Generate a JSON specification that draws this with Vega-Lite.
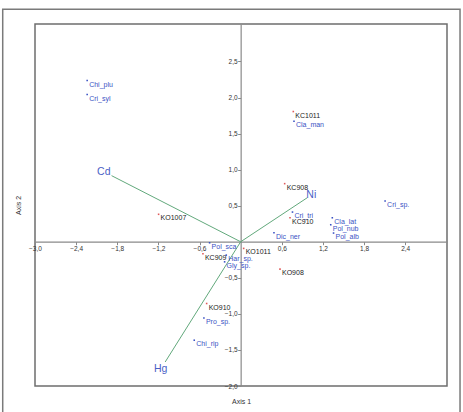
{
  "$schema": "https://vega.github.io/schema/vega-lite/v6.json",
  "width": 412,
  "height": 362,
  "autosize": {"type": "none"},
  "padding": {"left": 35, "top": 24, "right": 16, "bottom": 26},
  "background": "white",
  "config": {
    "view": {"stroke": "#6e6e6e", "strokeWidth": 1.5},
    "font": "Liberation Sans"
  },
  "datasets": {
    "scores": [
      {"name": "Chi_plu", "group": "species", "x": -2.239, "y": 2.236},
      {"name": "Cri_syl", "group": "species", "x": -2.239, "y": 2.042},
      {"name": "KC1011", "group": "site", "x": 0.768, "y": 1.806},
      {"name": "Cla_man", "group": "species", "x": 0.778, "y": 1.672},
      {"name": "KC908", "group": "site", "x": 0.642, "y": 0.806},
      {"name": "Cri_tri", "group": "species", "x": 0.756, "y": 0.412},
      {"name": "KC910", "group": "site", "x": 0.72, "y": 0.333},
      {"name": "Cri_sp.", "group": "species", "x": 2.107, "y": 0.565},
      {"name": "Cla_lat", "group": "species", "x": 1.337, "y": 0.333},
      {"name": "Pol_nub", "group": "species", "x": 1.314, "y": 0.236},
      {"name": "Pol_alb", "group": "species", "x": 1.355, "y": 0.121},
      {"name": "Dic_ner", "group": "species", "x": 0.486, "y": 0.125},
      {"name": "KO1007", "group": "site", "x": -1.197, "y": 0.381},
      {"name": "Pol_sca", "group": "species", "x": -0.453, "y": -0.014},
      {"name": "KC909", "group": "site", "x": -0.55, "y": -0.167},
      {"name": "Har_sp.", "group": "species", "x": -0.21, "y": -0.185},
      {"name": "Gly_sp.", "group": "species", "x": -0.234, "y": -0.278},
      {"name": "KO1011", "group": "site", "x": 0.044, "y": -0.092},
      {"name": "KO908", "group": "site", "x": 0.574, "y": -0.379},
      {"name": "KO910", "group": "site", "x": -0.496, "y": -0.856},
      {"name": "Pro_sp.", "group": "species", "x": -0.536, "y": -1.056},
      {"name": "Chi_rip", "group": "species", "x": -0.677, "y": -1.365}
    ],
    "env": [
      {"name": "Cd", "x": -1.883, "y": 0.917},
      {"name": "Ni", "x": 0.972, "y": 0.611},
      {"name": "Hg", "x": -1.101, "y": -1.667}
    ],
    "frame": [
      {"x": -3.471, "x2": 3.2, "y": 3.223, "y2": -2.45}
    ]
  },
  "encoding": {
    "x": {
      "field": "x",
      "type": "quantitative",
      "title": "Axis 1",
      "scale": {"domain": [-3, 3.01], "nice": false, "zero": false},
      "axis": {
        "title": "Axis 1",
        "values": [-3, -2.4, -1.8, -1.2, -0.6, 0.6, 1.2, 1.8, 2.4],
        "labelExpr": "replace(format(datum.value, '.1f'), '.', ',')",
        "offset": -144.3,
        "grid": false,
        "labelFlush": false,
        "labelOverlap": false,
        "labelFont": "Liberation Sans",
        "labelFontSize": 6.5,
        "labelColor": "#333333",
        "labelPadding": 1,
        "tickSize": 3,
        "tickColor": "#8a8a8a",
        "domainColor": "#8a8a8a",
        "domainWidth": 1.2,
        "titleY": 160,
        "titleBaseline": "middle",
        "titleFont": "Liberation Sans",
        "titleFontSize": 7,
        "titleFontWeight": "normal",
        "titleColor": "#333333"
      }
    },
    "y": {
      "field": "y",
      "type": "quantitative",
      "title": "Axis 2",
      "scale": {"domain": [-2, 3.02], "nice": false, "zero": false},
      "axis": {
        "title": "Axis 2",
        "values": [-2, -1.5, -1, -0.5, 0.5, 1, 1.5, 2, 2.5],
        "labelExpr": "replace(format(datum.value, '.1f'), '.', ',')",
        "offset": -205.65,
        "grid": false,
        "labelFlush": false,
        "labelOverlap": false,
        "labelFont": "Liberation Sans",
        "labelFontSize": 6.5,
        "labelColor": "#333333",
        "labelPadding": 0.5,
        "tickSize": 3,
        "tickColor": "#8a8a8a",
        "domainColor": "#8a8a8a",
        "domainWidth": 1.2,
        "titleX": -222.6,
        "titleBaseline": "middle",
        "titleFont": "Liberation Sans",
        "titleFontSize": 7,
        "titleFontWeight": "normal",
        "titleColor": "#333333"
      }
    }
  },
  "layer": [
    {
      "data": {"name": "env"},
      "mark": {"type": "rule", "color": "#62a97c", "strokeWidth": 1},
      "encoding": {
        "x2": {"datum": 0},
        "y2": {"datum": 0}
      }
    },
    {
      "data": {"name": "env"},
      "transform": [
        {"calculate": "datum.x * 1.06", "as": "lx"},
        {"calculate": "datum.y * 1.06", "as": "ly"}
      ],
      "mark": {"type": "text", "align": "center", "baseline": "middle", "font": "Liberation Sans", "fontSize": 10.5, "color": "#4a5fc6"},
      "encoding": {
        "x": {"field": "lx", "type": "quantitative", "title": "Axis 1"},
        "y": {"field": "ly", "type": "quantitative", "title": "Axis 2"},
        "text": {"field": "name"}
      }
    },
    {
      "data": {"name": "scores"},
      "mark": {"type": "point", "shape": "square", "filled": true, "size": 2.5, "opacity": 1},
      "encoding": {
        "color": {
          "field": "group",
          "type": "nominal",
          "scale": {"domain": ["site", "species"], "range": ["#e05a5a", "#3a52c4"]},
          "legend": null
        }
      }
    },
    {
      "data": {"name": "scores"},
      "mark": {"type": "text", "align": "left", "baseline": "middle", "dx": 2, "dy": 4, "font": "Liberation Sans", "fontSize": 7},
      "encoding": {
        "text": {"field": "name"},
        "color": {
          "field": "group",
          "type": "nominal",
          "scale": {"domain": ["site", "species"], "range": ["#222222", "#3a52c4"]},
          "legend": null
        }
      }
    },
    {
      "data": {"name": "frame"},
      "mark": {"type": "rect", "fill": null, "fillOpacity": 0, "stroke": "#7a7a7a", "strokeWidth": 1.5, "clip": false},
      "encoding": {
        "x": {"field": "x", "type": "quantitative", "title": "Axis 1"},
        "x2": {"field": "x2"},
        "y": {"field": "y", "type": "quantitative", "title": "Axis 2"},
        "y2": {"field": "y2"}
      }
    }
  ],
  "resolve": {"scale": {"color": "independent"}}
}
